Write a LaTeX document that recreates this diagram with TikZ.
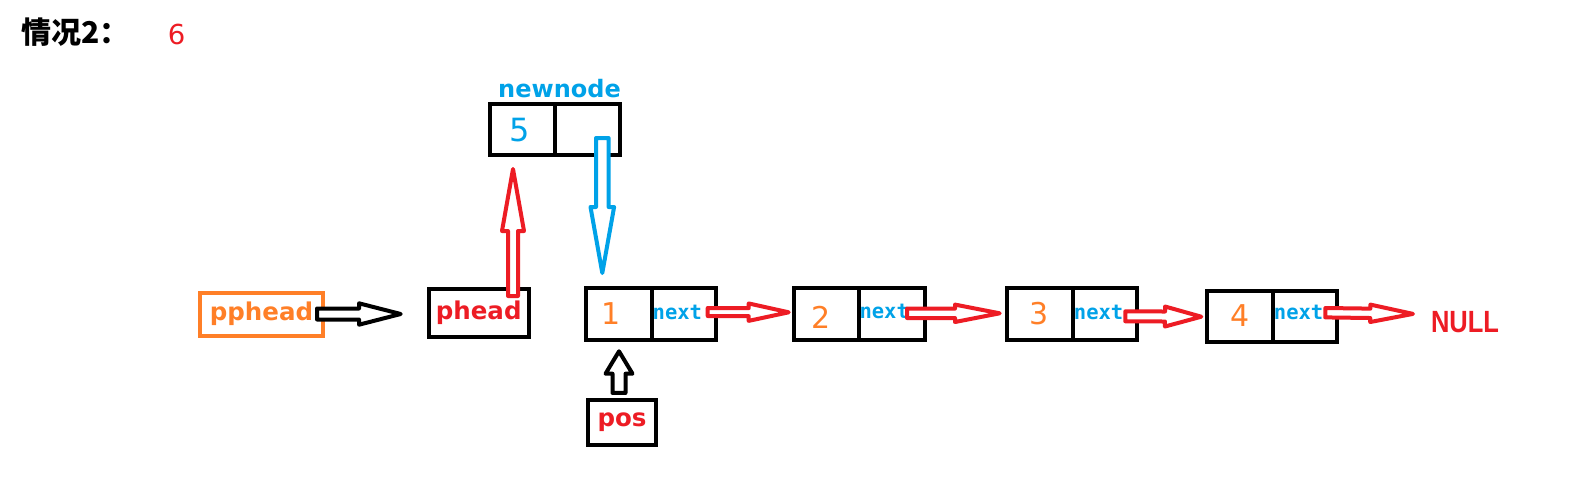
\documentclass[tikz,border=0pt]{standalone}
\usepackage{fontspec}
\usepackage{graphicx}
\usetikzlibrary{calc}
\newfontfamily\djv{DejaVu Sans}
\newfontfamily\djvmono{DejaVu Sans Mono}
\newfontfamily\libs{Liberation Sans}
\newfontfamily\cjkf{Noto Sans CJK SC}
\definecolor{pred}{HTML}{ED1C24}
\definecolor{pblue}{HTML}{00A2E8}
\definecolor{porange}{HTML}{FF7F27}
% hollow block arrow: #1 style, #2 tail coord, #3 tip coord, #4 shaft half width, #5 head half width, #6 head length
\newcommand{\hollowarrow}[6]{%
  \coordinate (hb) at ($(#3)!#6pt!(#2)$);
  \draw[#1] ($(#2)!#4pt!90:(#3)$) -- ($(hb)!#4pt!-90:(#2)$) -- ($(hb)!#5pt!-90:(#2)$) -- (#3)
     -- ($(hb)!#5pt!90:(#2)$) -- ($(hb)!#4pt!90:(#2)$) -- ($(#2)!#4pt!-90:(#3)$) -- cycle;
}
\begin{document}
\begin{tikzpicture}[x=1pt,y=-1pt,
  cell/.style={draw=black, line width=4pt, minimum width=65pt, minimum height=52pt, inner sep=0pt, outer sep=0pt, anchor=west},
  lbox/.style={draw, line width=4pt, inner sep=0pt, outer sep=0pt, font=\djv\bfseries\fontsize{24.5}{28}\selectfont},
  digit/.style={inner sep=0pt, anchor=base, text=porange, font=\djv\fontsize{30}{34}\selectfont},
  nexttxt/.style={inner sep=0pt, anchor=base west, text=pblue, font=\djvmono\bfseries\fontsize{20.5}{24}\selectfont},
  harrow/.style={line width=4pt, line join=round, fill=white}
]
\fill[white] (0,0) rectangle (1588,499);
\useasboundingbox (0,0) rectangle (1588,499);

% title
\node[inner sep=0pt, anchor=base west, font=\cjkf\bfseries\fontsize{30}{34}\selectfont] (title) at (21,43) {情况2：};
\node[inner sep=0pt, anchor=base, text=pred, font=\djv\fontsize{27.5}{30}\selectfont] (six) at (176.5,44) {6};

% new node
\node[inner sep=0pt, anchor=base, text=pblue, font=\djv\bfseries\fontsize{24}{28}\selectfont] (nnlab) at (559.5,97) {newnode};
\node[cell, minimum height=51pt] (nnd) at (490,129.5) {};
\node[cell, minimum height=51pt] (nnn) at (nnd.east) {};
\node[digit, text=pblue, font=\djv\fontsize{32}{36}\selectfont] (t5) at (520,141.7) {5};

% list nodes
\node[cell, minimum width=66pt] (n1d) at (586,314) {};
\node[cell, minimum width=64pt] (n1n) at (n1d.east) {};
\node[cell, minimum width=65pt] (n2d) at (794.3,314) {};
\node[cell, minimum width=65.4pt] (n2n) at (n2d.east) {};
\node[cell, minimum width=65.7pt] (n3d) at (1007,314) {};
\node[cell, minimum width=64.6pt] (n3n) at (n3d.east) {};
\node[cell, minimum width=65.7pt, minimum height=50.7pt] (n4d) at (1207,316.7) {};
\node[cell, minimum width=64.6pt, minimum height=50.7pt] (n4n) at (n4d.east) {};

\node[digit] (t1) at (611,324) {1};
\node[digit] (t2) at (820.7,328.3) {2};
\node[digit] (t3) at (1039.3,324) {3};
\node[digit] (t4) at (1240,326.7) {4};

\node[nexttxt] (x1) at ($(n1n.west)+(0.5,5.5)$) {next};
\node[nexttxt] (x2) at ($(n2n.west)+(0,4.5)$) {next};
\node[nexttxt] (x3) at ($(n3n.west)+(1,5.5)$) {next};
\node[nexttxt] (x4) at ($(n4n.west)+(1,2.5)$) {next};

\node[inner sep=0pt, outer sep=0pt, anchor=base west, text=pred, font=\libs\bfseries\fontsize{30.7}{34}\selectfont] (null) at (1431,332.7) {\scalebox{0.83}[1]{NULL}};

% pointer boxes
\node[lbox, draw=porange, text=porange, minimum width=123pt, minimum height=43pt] (pp) at (261.5,314.2) {pphead};
\node[lbox, draw=black, text=pred, minimum width=100pt, minimum height=48pt] (ph) at (478.7,313) {phead};
\node[lbox, draw=black, text=pred, minimum width=68.6pt, minimum height=44.7pt] (pos) at (622,422.3) {pos};

% arrows
\coordinate (a1s) at ($(pp.east)+(-6,-0.2)$);
\coordinate (a1t) at ($(ph.west)+(-28,1)$);
\hollowarrow{harrow, draw=black}{a1s}{a1t}{5.5}{10.7}{41.7}

\coordinate (a2s) at ($(ph.north)+(34.3,7)$);
\coordinate (a2t) at ($(nnd.south)+(-9.5,14)$);
\hollowarrow{harrow, draw=pred}{a2s}{a2t}{5}{11}{62}

\coordinate (a3s) at ($(nnn.center)+(14.8,8.5)$);
\coordinate (a3t) at ($(n1d.north)+(-16.7,-15)$);
\hollowarrow{harrow, draw=pblue}{a3s}{a3t}{6.3}{11.8}{66}

\coordinate (a4s) at ($(pos.north)+(-3,-7)$);
\coordinate (a4t) at ($(n1d.south)+(0,11.3)$);
\hollowarrow{harrow, draw=black}{a4s}{a4t}{6.5}{13.5}{22.4}

\coordinate (a5s) at ($(n1n.east)+(-8.3,-2)$);
\coordinate (a5t) at ($(n2d.west)+(-5.6,-1.7)$);
\hollowarrow{harrow, draw=pred}{a5s}{a5t}{4}{8.7}{40}

\coordinate (a6s) at ($(n2n.east)+(-17.7,-0.7)$);
\coordinate (a6t) at ($(n3d.west)+(-7.3,-0.7)$);
\hollowarrow{harrow, draw=pred}{a6s}{a6t}{4.7}{8.7}{44.7}

\coordinate (a7s) at ($(n3n.east)+(-12,2.3)$);
\coordinate (a7t) at ($(n4d.west)+(-5.7,0)$);
\hollowarrow{harrow, draw=pred}{a7s}{a7t}{5}{10}{36.3}

\coordinate (a8s) at ($(n4n.east)+(-12,-4)$);
\coordinate (a8t) at ($(null.west)+(-18,-8.4)$);
\hollowarrow{harrow, draw=pred}{a8s}{a8t}{4.7}{8.7}{42.7}
\end{tikzpicture}
\end{document}
